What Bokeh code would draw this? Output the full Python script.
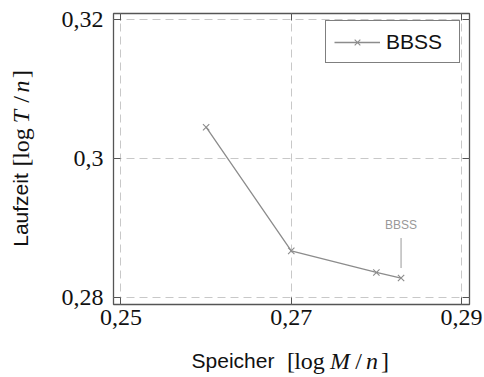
from bokeh.plotting import figure
from bokeh.layouts import row, column
from bokeh.models import (LinearAxis, FixedTicker, CustomJSTickFormatter, Range1d,
                          Label, Legend, LegendItem)
from bokeh.embed import file_html
from bokeh.resources import INLINE

# Speicherbedarf und Laufzeit des BBSS-Verfahrens
speicher = [0.26, 0.27, 0.28, 0.2829]
laufzeit = [0.3045, 0.2867, 0.2836, 0.2828]
series_name = "BBSS"
x_ticks = [0.25, 0.27, 0.29]
y_ticks = [0.28, 0.30, 0.32]

X_RANGE = (0.24912, 0.29094)
Y_RANGE = (0.27899, 0.32086)

W, H = 484, 377
YLAB_W = 40          # strip for the vertical axis title
XLAB_H = 35          # strip for the horizontal axis title
PLOT_W, PLOT_H = W - YLAB_W, H - XLAB_H
FRAME_LEFT = 113     # page x of the plot frame's left edge
B_LEFT, B_RIGHT, B_TOP = FRAME_LEFT - YLAB_W, 15, 13
B_BOTTOM = PLOT_H - 304
FRAME_H = PLOT_H - B_TOP - B_BOTTOM

FRAME_COLOR = "#555555"
SERIES_COLOR = "#8c8c8c"
TEXT_COLOR = "#111111"
SANS = "Liberation Sans"
SERIF = "Liberation Serif"

p = figure(width=PLOT_W, height=PLOT_H, output_backend="svg", toolbar_location=None,
           x_range=Range1d(*X_RANGE), y_range=Range1d(*Y_RANGE),
           min_border_left=B_LEFT, min_border_right=B_RIGHT,
           min_border_top=B_TOP, min_border_bottom=B_BOTTOM)
p.outline_line_color = FRAME_COLOR
p.outline_line_width = 1.3
p.background_fill_color = "white"
p.border_fill_color = "white"

comma_fmt = CustomJSTickFormatter(
    code="return tick.toFixed(2).replace(/0$/, '').replace('.', ',');")

for ax, ticks in ((p.xaxis[0], x_ticks), (p.yaxis[0], y_ticks)):
    ax.ticker = FixedTicker(ticks=ticks)
    ax.formatter = comma_fmt
    ax.axis_line_color = None
    ax.major_tick_in = 7
    ax.major_tick_out = 0
    ax.major_tick_line_color = FRAME_COLOR
    ax.major_tick_line_width = 1
    ax.minor_tick_line_color = None
    ax.major_label_text_font = SERIF
    ax.major_label_text_font_size = "24px"
    ax.major_label_text_color = TEXT_COLOR
p.xaxis[0].major_label_standoff = 5
p.yaxis[0].major_label_standoff = 10

# mirrored ticks on top and right
blank_fmt = CustomJSTickFormatter(code="return '';")
for loc, ticks in (("above", x_ticks), ("right", y_ticks)):
    ax = LinearAxis(ticker=FixedTicker(ticks=ticks), formatter=blank_fmt,
                    axis_line_color=None, major_tick_in=7, major_tick_out=0,
                    major_tick_line_color=FRAME_COLOR, minor_tick_line_color=None,
                    major_label_standoff=0, major_label_text_font_size="1px")
    p.add_layout(ax, loc)

for g in (p.xgrid[0], p.ygrid[0]):
    g.grid_line_color = "#c8c8c8"
    g.grid_line_dash = "8 5"
    g.grid_line_width = 1

line_r = p.line(speicher, laufzeit, line_color=SERIES_COLOR, line_width=1.3)
mark_r = p.scatter(speicher, laufzeit, marker="x", size=9,
                   line_color=SERIES_COLOR, line_width=1.1)

legend = Legend(items=[LegendItem(label=series_name, renderers=[line_r, mark_r])],
                location=(212, 241), margin=0, padding=8, spacing=0,
                glyph_width=46, glyph_height=20, label_standoff=6,
                label_width=65, label_height=25,
                label_text_font=SANS, label_text_font_size="21px",
                label_text_color=TEXT_COLOR,
                border_line_color="black", border_line_width=1,
                background_fill_color="white", background_fill_alpha=1.0)
p.add_layout(legend)

# pin label at the last point
px_y = (Y_RANGE[1] - Y_RANGE[0]) / FRAME_H
xl, yl = speicher[-1], laufzeit[-1]
p.segment(x0=[xl], y0=[yl + 10 * px_y], x1=[xl], y1=[yl + 40 * px_y],
          line_color="#999999", line_width=1)
p.add_layout(Label(x=xl, y=yl, y_offset=53, text=series_name,
                   text_font=SANS, text_font_size="12px", text_color="#999999",
                   text_align="center", text_baseline="middle"))


def title_strip(width, height, **borders):
    f = figure(width=width, height=height, output_backend="svg", toolbar_location=None,
               x_range=Range1d(0, 1), y_range=Range1d(0, 1),
               x_axis_type=None, y_axis_type=None, **borders)
    f.grid.visible = False
    f.outline_line_color = None
    f.background_fill_color = "white"
    f.border_fill_color = "white"
    return f


def title_piece(f, x, y, text, font, size, style="normal", angle=0.0):
    f.add_layout(Label(x=x, y=y, x_units="screen", y_units="screen", text=text,
                       text_font=font, text_font_size=size, text_font_style=style,
                       text_color=TEXT_COLOR, text_align="center",
                       text_baseline="alphabetic", angle=angle))


# horizontal axis title: "Speicher [log M/n]" (frame shares the plot's side borders)
xt = title_strip(PLOT_W, XLAB_H, min_border_left=B_LEFT, min_border_right=B_RIGHT,
                 min_border_top=0, min_border_bottom=0)
X_BASE = 17
for cx, txt, font, size, style in (
        (232.5, "Speicher", SANS, "21px", "normal"),
        (290.5, "[", SERIF, "24px", "normal"),
        (309.0, "log", SERIF, "24px", "normal"),
        (339.5, "M", SERIF, "24px", "italic"),
        (358.0, "/", SERIF, "24px", "normal"),
        (371.5, "n", SERIF, "24px", "italic"),
        (384.5, "]", SERIF, "24px", "normal")):
    title_piece(xt, cx - FRAME_LEFT, X_BASE, txt, font, size, style)

# vertical axis title: "Laufzeit [log T/n]"
yt = title_strip(YLAB_W, H, min_border_left=0, min_border_right=0,
                 min_border_top=0, min_border_bottom=0)
Y_BASE = 20
ROT = 1.5707963267948966
for cy, txt, font, size, style in (
        (209.5, "Laufzeit", SANS, "21px", "normal"),
        (162.0, "[", SERIF, "24px", "normal"),
        (143.0, "log", SERIF, "24px", "normal"),
        (116.0, "T", SERIF, "24px", "italic"),
        (99.0, "/", SERIF, "24px", "normal"),
        (86.0, "n", SERIF, "24px", "italic"),
        (73.5, "]", SERIF, "24px", "normal")):
    title_piece(yt, Y_BASE, H - cy, txt, font, size, style, angle=ROT)

layout = row(yt, column(p, xt, spacing=0), spacing=0)
open("out.html", "w").write(file_html(layout, INLINE))
